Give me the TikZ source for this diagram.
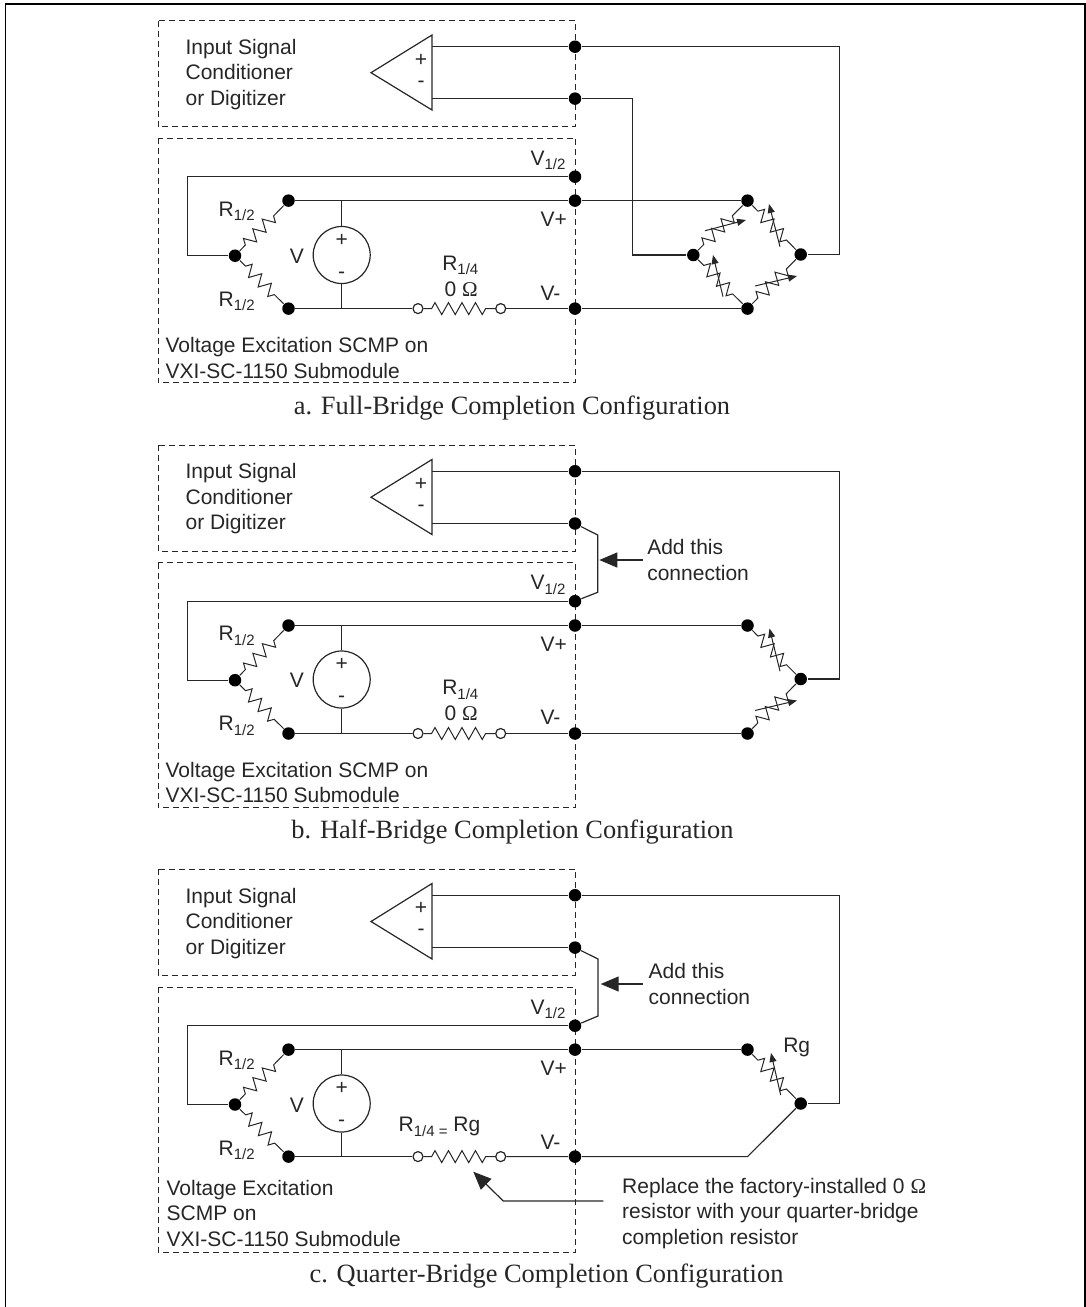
\documentclass[tikz,border=0pt]{standalone}
\usepackage{fontspec}
\setmainfont{Liberation Sans}
\newfontfamily\capfont{Liberation Serif}
\usetikzlibrary{arrows.meta,decorations.pathmorphing,positioning}
\newcommand{\lowsub}[1]{\raisebox{-4.5pt}{\fontsize{15pt}{15pt}\selectfont #1}}
\newcommand{\ohm}{{\capfont Ω}}

\begin{document}
\begin{tikzpicture}[
		x=1pt, y=-1pt,
		line width=1.2pt, color=black!85,
		dot/.style={circle, fill=black, minimum size=12.5pt, inner sep=0pt},
		ring/.style={circle, draw, fill=white, minimum size=10pt, inner sep=0pt},
		src/.style={circle, draw, minimum size=57pt, inner sep=0pt},
		box/.style={line width=1pt, dash pattern=on 6pt off 4pt},
		res/.style={line width=1pt, decorate, decoration={zigzag, amplitude=6pt, segment length=13.5pt, pre length=8pt, post length=8pt}},
		tune/.style={line width=1pt, -{Triangle[length=9pt, width=7pt]}},
		call/.style={-{Triangle[length=18pt, width=15pt]}},
		txt/.style={anchor=west, align=left, inner sep=0pt, font=\fontsize{21pt}{25.5pt}\selectfont},
		lbl/.style={anchor=base west, inner sep=0pt, font=\fontsize{21pt}{25.5pt}\selectfont},
		sgn/.style={inner sep=0pt, font=\fontsize{21pt}{25.5pt}\selectfont},
		title/.style={inner sep=0pt, font=\fontsize{26.4pt}{30pt}\capfont}
		]
	\useasboundingbox (0,0) rectangle (1086,1307);

	% outer frame
	\draw[line width=2.2pt, black] (1085,1307) -- (1085,4) -- (5.5,4);
	\draw[black] (5.5,3) -- (5.5,1307);

	% a. full bridge
	\draw[box] (158,20.7) rectangle (575.7,126.7);
	\draw[box] (158,138) rectangle (575.7,382.7);
	\node[txt] (sig1) at (185,74.2) {Input Signal\\Conditioner\\or Digitizer};
	\draw (432,35) -- (371,72.7) -- (432,110) -- cycle;
	\coordinate (Ap1) at (432,46.7);
	\coordinate (Am1) at (432,98.6);
	\node[sgn] (ip1) at (421,60) {+};
	\node[sgn] (im1) at (421,84) {-};
	\node[dot] (Sp1) at (575,46.7) {};
	\node[dot] (Sm1) at (575,98.6) {};
	\node[dot] (Vh1) at (575,176.7) {};
	\node[dot] (Vp1) at (575,200.6) {};
	\node[dot] (Vn1) at (575,308.6) {};
	\node[dot] (Rt1) at (288.5,200.6) {};
	\node[dot] (Rm1) at (235,255.7) {};
	\node[dot] (Rb1) at (288.5,308.6) {};
	\node[src] (Us1) at (341.7,255) {};
	\node[sgn] (Up1) at (341.7,240) {+};
	\node[sgn] (Um1) at (341.7,275) {-};
	\node[ring] (Oa1) at (418,308.6) {};
	\node[ring] (Ob1) at (500.7,308.6) {};
	\node[dot] (Bt1) at (747.5,200.6) {};
	\node[dot] (Bl1) at (693.3,255) {};
	\node[dot] (Br1) at (800.7,254.5) {};
	\node[dot] (Bb1) at (747.5,308.6) {};
	\coordinate (Wr1) at (839.6,254.5);
	\coordinate (Wl1) at (632.6,255);
	\coordinate (Wm1) at (187.3,255.7);

	\draw (Ap1) -- (Sp1);
	\draw (Am1) -- (Sm1);
	\draw (Sp1) -| (Wr1) -- (Br1);
	\draw (Sm1) -| (Wl1) -- (Bl1);
	\draw (Vh1) -| (Wm1) -- (Rm1);
	\draw (Rt1) -- (Vp1) -- (Bt1);
	\draw (Rb1) -- (Oa1);
	\draw (Ob1) -- (Vn1) -- (Bb1);
	\draw (Us1) -- (Us1 |- Rt1);
	\draw (Us1) -- (Us1 |- Rb1);
	\draw[res] (Rm1) -- (Rt1);
	\draw[res] (Rm1) -- (Rb1);
	\draw[res] (Oa1) -- (Ob1);
	\draw[res] (Bl1) -- (Bt1);
	\draw[res] (Bt1) -- (Br1);
	\draw[res] (Bl1) -- (Bb1);
	\draw[res] (Bb1) -- (Br1);
	\coordinate (Ta1) at (705,230.7);
	\coordinate (Tb1) at (746,220);
	\coordinate (Tc1) at (780,246.7);
	\coordinate (Td1) at (769,204);
	\coordinate (Te1) at (723,296.7);
	\coordinate (Tf1) at (713,255);
	\coordinate (Tg1) at (755,286);
	\coordinate (Th1) at (797,276);
	\draw[tune] (Ta1) -- (Tb1);
	\draw[tune] (Tc1) -- (Td1);
	\draw[tune] (Te1) -- (Tf1);
	\draw[tune] (Tg1) -- (Th1);

	\node[lbl] (lh1) at (530,165) {V\lowsub{1/2}};
	\node[lbl] (lp1) at (540,226.7) {V+};
	\node[lbl] (ln1) at (540,300) {V-};
	\node[lbl] (lu1) at (218,216) {R\lowsub{1/2}};
	\node[lbl] (ld1) at (218,306) {R\lowsub{1/2}};
	\node[lbl] (lv1) at (289.3,263.3) {V};
	\node[lbl] (lq1) at (441.7,270) {R\lowsub{1/4}};
	\node[lbl] (lz1) at (444,296) {0 \ohm};
	\node[txt] (exc1) at (165,358) {Voltage Excitation SCMP on\\VXI-SC-1150 Submodule};
	\node[title] (cap1) at (512,408) {a. Full-Bridge Completion Configuration};

	% b. half bridge
	\draw[box] (158,445.2) rectangle (575.7,551.2);
	\draw[box] (158,562.5) rectangle (575.7,807.2);
	\node[txt] (sig2) at (185,498.7) {Input Signal\\Conditioner\\or Digitizer};
	\draw (432,459.5) -- (371,497.2) -- (432,534.5) -- cycle;
	\coordinate (Ap2) at (432,471.2);
	\coordinate (Am2) at (432,523.5);
	\node[sgn] (ip2) at (421,484.5) {+};
	\node[sgn] (im2) at (421,508.5) {-};
	\node[dot] (Sp2) at (575,471.2) {};
	\node[dot] (Sm2) at (575,523.5) {};
	\node[dot] (Vh2) at (575,601.2) {};
	\node[dot] (Vp2) at (575,625.5) {};
	\node[dot] (Vn2) at (575,733.5) {};
	\node[dot] (Rt2) at (288.5,625.5) {};
	\node[dot] (Rm2) at (235,680.2) {};
	\node[dot] (Rb2) at (288.5,733.5) {};
	\node[src] (Us2) at (341.7,679.5) {};
	\node[sgn] (Up2) at (341.7,664.5) {+};
	\node[sgn] (Um2) at (341.7,699.5) {-};
	\node[ring] (Oa2) at (418,733.5) {};
	\node[ring] (Ob2) at (500.7,733.5) {};
	\node[dot] (Bt2) at (747.5,625.5) {};
	\node[dot] (Br2) at (800.7,679) {};
	\node[dot] (Bb2) at (747.5,733.5) {};
	\coordinate (Wr2) at (839.6,679);
	\coordinate (Wm2) at (187.3,680.2);
	\coordinate (Ja2) at (597.7,535);
	\coordinate (Jb2) at (597.7,592.3);

	\draw (Ap2) -- (Sp2);
	\draw (Am2) -- (Sm2);
	\draw (Sp2) -| (Wr2) -- (Br2);
	\draw (Sm2) -- (Ja2) -- (Jb2) -- (Vh2);
	\draw (Vh2) -| (Wm2) -- (Rm2);
	\draw (Rt2) -- (Vp2) -- (Bt2);
	\draw (Rb2) -- (Oa2);
	\draw (Ob2) -- (Vn2) -- (Bb2);
	\draw (Us2) -- (Us2 |- Rt2);
	\draw (Us2) -- (Us2 |- Rb2);
	\draw[res] (Rm2) -- (Rt2);
	\draw[res] (Rm2) -- (Rb2);
	\draw[res] (Oa2) -- (Ob2);
	\draw[res] (Bt2) -- (Br2);
	\draw[res] (Bb2) -- (Br2);
	\coordinate (Tc2) at (780,671.2);
	\coordinate (Td2) at (769.5,628.5);
	\coordinate (Tg2) at (755,710.5);
	\coordinate (Th2) at (797,700.5);
	\draw[tune] (Tc2) -- (Td2);
	\draw[tune] (Tg2) -- (Th2);
	\coordinate (Ka2) at (642.7,560);
	\coordinate (Kb2) at (599.3,560);
	\draw[call] (Ka2) -- (Kb2);

	\node[lbl] (lh2) at (530,589.5) {V\lowsub{1/2}};
	\node[lbl] (lp2) at (540,651.2) {V+};
	\node[lbl] (ln2) at (540,724.5) {V-};
	\node[lbl] (lu2) at (218,640.5) {R\lowsub{1/2}};
	\node[lbl] (ld2) at (218,730.5) {R\lowsub{1/2}};
	\node[lbl] (lv2) at (289.3,687.8) {V};
	\node[lbl] (lq2) at (441.7,694.5) {R\lowsub{1/4}};
	\node[lbl] (lz2) at (444,720.5) {0 \ohm};
	\node[txt] (exc2) at (165,782.5) {Voltage Excitation SCMP on\\VXI-SC-1150 Submodule};
	\node[txt] (add2) at (646.7,560) {Add this\\connection};
	\node[title] (cap2) at (512.5,831.7) {b. Half-Bridge Completion Configuration};

	% c. quarter bridge
	\draw[box] (158,869.3) rectangle (575.7,975);
	\draw[box] (158,987) rectangle (575.7,1252);
	\node[txt] (sig3) at (185,923.5) {Input Signal\\Conditioner\\or Digitizer};
	\draw (432,883.5) -- (371,921.5) -- (432,959) -- cycle;
	\coordinate (Ap3) at (432,895.2);
	\coordinate (Am3) at (432,947.6);
	\node[sgn] (ip3) at (421,908.5) {+};
	\node[sgn] (im3) at (421,932.5) {-};
	\node[dot] (Sp3) at (575,895.2) {};
	\node[dot] (Sm3) at (575,947.6) {};
	\node[dot] (Vh3) at (575,1025.7) {};
	\node[dot] (Vp3) at (575,1049.6) {};
	\node[dot] (Vn3) at (575,1156.6) {};
	\node[dot] (Rt3) at (288.5,1049.6) {};
	\node[dot] (Rm3) at (235,1104.5) {};
	\node[dot] (Rb3) at (288.5,1156.6) {};
	\node[src] (Us3) at (341.7,1103.5) {};
	\node[sgn] (Up3) at (341.7,1088.5) {+};
	\node[sgn] (Um3) at (341.7,1123.5) {-};
	\node[ring] (Oa3) at (418,1156.6) {};
	\node[ring] (Ob3) at (500.7,1156.6) {};
	\node[dot] (Bt3) at (747.5,1049.6) {};
	\node[dot] (Br3) at (800.7,1103.5) {};
	\coordinate (Bb3) at (747.5,1156.6);
	\coordinate (Wr3) at (839.6,1103.5);
	\coordinate (Wm3) at (187.3,1104.5);
	\coordinate (Ja3) at (598,959);
	\coordinate (Jb3) at (598,1016);

	\draw (Ap3) -- (Sp3);
	\draw (Am3) -- (Sm3);
	\draw (Sp3) -| (Wr3) -- (Br3);
	\draw (Sm3) -- (Ja3) -- (Jb3) -- (Vh3);
	\draw (Vh3) -| (Wm3) -- (Rm3);
	\draw (Rt3) -- (Vp3) -- (Bt3);
	\draw (Rb3) -- (Oa3);
	\draw (Ob3) -- (Vn3) -- (Bb3) -- (Br3);
	\draw (Us3) -- (Us3 |- Rt3);
	\draw (Us3) -- (Us3 |- Rb3);
	\draw[res] (Rm3) -- (Rt3);
	\draw[res] (Rm3) -- (Rb3);
	\draw[res] (Oa3) -- (Ob3);
	\draw[res] (Bt3) -- (Br3);
	\coordinate (Tc3) at (780.7,1095);
	\coordinate (Td3) at (771,1053);
	\draw[tune] (Tc3) -- (Td3);
	\coordinate (Ka3) at (642.7,984);
	\coordinate (Kb3) at (600.7,984);
	\draw[call] (Ka3) -- (Kb3);
	\coordinate (Ca3) at (603.3,1201);
	\coordinate (Cb3) at (503.3,1201);
	\coordinate (Cc3) at (473.3,1171.7);
	\draw[call] (Ca3) -- (Cb3) -- (Cc3);

	\node[lbl] (lh3) at (530,1014) {V\lowsub{1/2}};
	\node[lbl] (lp3) at (540,1075.7) {V+};
	\node[lbl] (ln3) at (540,1149) {V-};
	\node[lbl] (lu3) at (218,1065) {R\lowsub{1/2}};
	\node[lbl] (ld3) at (218,1155) {R\lowsub{1/2}};
	\node[lbl] (lv3) at (289.3,1112.3) {V};
	\node[lbl] (lq3) at (398,1131.7) {R\lowsub{1/4 =} Rg};
	\node[lbl] (lg3) at (782.7,1052.7) {Rg};
	\node[txt] (exc3) at (166,1213) {Voltage Excitation\\SCMP on\\VXI-SC-1150 Submodule};
	\node[txt] (add3) at (648,984) {Add this\\connection};
	\node[txt] (rep3) at (621.6,1213.2) {Replace the factory-installed 0 \ohm\\resistor with your quarter-bridge\\completion resistor};
	\node[title] (cap3) at (546.5,1276) {c. Quarter-Bridge Completion Configuration};
\end{tikzpicture}
\end{document}
